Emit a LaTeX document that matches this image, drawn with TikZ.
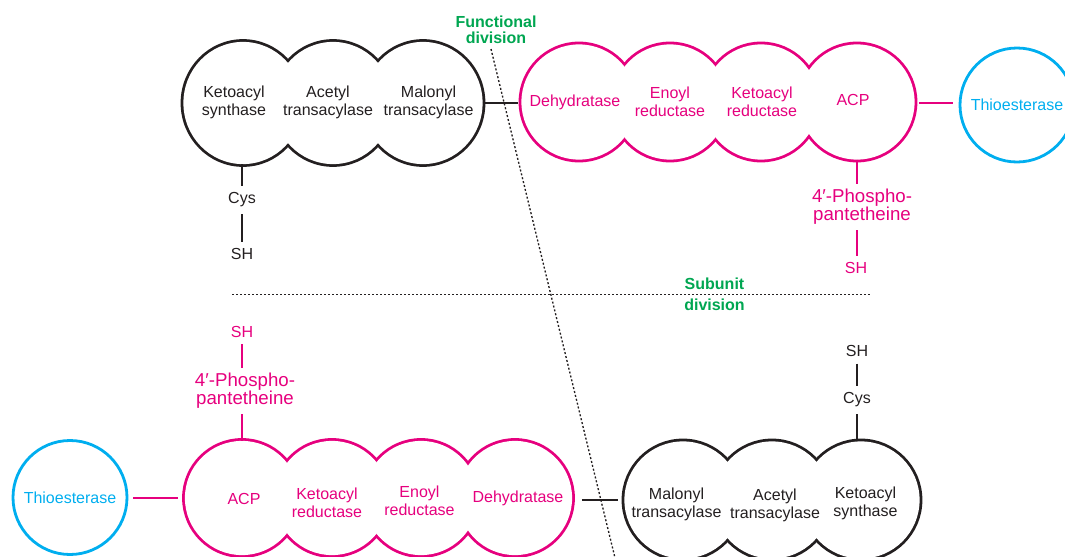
\documentclass[tikz,border=0pt]{standalone}
\usepackage{fontspec}
\setmainfont{Liberation Sans}
\usetikzlibrary{backgrounds,shapes.geometric}
\definecolor{pk}{HTML}{E6007E}
\definecolor{cy}{HTML}{00AEEF}
\definecolor{gr}{HTML}{00A651}
\definecolor{dk}{HTML}{231F20}
\begin{document}
\begin{tikzpicture}[x=0.75pt,y=-0.75pt,
  lb/.style={font=\fontsize{12}{13.7}\selectfont,align=center,inner sep=0pt,text=dk},
  lbp/.style={lb,text=pk},
  chain/.style={font=\fontsize{12}{13.7}\selectfont,inner xsep=0pt,inner ysep=5pt,text=dk},
  chainp/.style={chain,text=pk},
  phos/.style={font=\fontsize{14}{13.5}\selectfont,align=center,inner xsep=0pt,inner ysep=4pt,text=pk},
  divlbl/.style={font=\bfseries\fontsize{12}{#1}\selectfont,align=center,inner sep=0pt,text=gr},
  blklobe/.style={ellipse,fill=white,inner sep=0pt,outer sep=0pt,minimum width=89.4pt,minimum height=91.65pt},
  pklobe/.style={circle,fill=white,inner sep=0pt,outer sep=0pt,minimum size=86.4pt},
  pklobeb/.style={circle,fill=white,inner sep=0pt,outer sep=0pt,minimum size=85.65pt},
  bklobeb/.style={circle,fill=white,inner sep=0pt,outer sep=0pt,minimum size=87.9pt},
  thio/.style={circle,draw=cy,line width=2.1pt,inner sep=0pt,outer sep=0pt,minimum size=85.5pt,
    text=cy,font=\fontsize{12}{13.7}\selectfont},
  dcon/.style={draw=dk,line width=1pt},
  pcon/.style={draw=pk,line width=1.2pt},
  dotline/.style={draw=dk,line width=1pt,dash pattern=on 1.5pt off 1.5pt}
]
\useasboundingbox (0,0) rectangle (1065,557);

% dotted division lines
\coordinate (fd1) at (491,49);
\coordinate (fd2) at (616,562);
\coordinate (sd1) at (232,294.3);
\coordinate (sd2) at (870,294.3);
\draw[dotline] (fd1) -- (fd2);
\draw[dotline] (sd1) -- (sd2);

% lobes
\node[blklobe] (tb1) at (243,103) {};
\node[blklobe] (tb2) at (333,103) {};
\node[blklobe] (tb3) at (423,103) {};
\node[pklobe] (tp1) at (579,102) {};
\node[pklobe] (tp2) at (670,102) {};
\node[pklobe] (tp3) at (761,102) {};
\node[pklobe] (tp4) at (857,102) {};
\node[pklobeb] (bp1) at (242,498) {};
\node[pklobeb] (bp2) at (332,498) {};
\node[pklobeb] (bp3) at (421,498) {};
\node[pklobeb] (bp4) at (515,498) {};
\node[bklobeb] (bb1) at (683,500) {};
\node[bklobeb] (bb2) at (772,500) {};
\node[bklobeb] (bb3) at (861,500) {};

\begin{scope}[on background layer]
  \foreach \n in {tb1,tb2,tb3}
    \draw[dk,line width=4.2pt] (\n.center) ellipse [x radius=44.7pt,y radius=45.8pt];
  \foreach \n in {tp1,tp2,tp3,tp4}
    \draw[pk,line width=4.2pt] (\n.center) circle [radius=43.2pt];
  \foreach \n in {bp1,bp2,bp3,bp4}
    \draw[pk,line width=4.2pt] (\n.center) circle [radius=42.83pt];
  \foreach \n in {bb1,bb2,bb3}
    \draw[dk,line width=4.2pt] (\n.center) circle [radius=43.95pt];
\end{scope}

% thioesterases
\node[thio] (thioR) at (1017,105) {Thioesterase};
\node[thio] (thioL) at (70,497.5) {Thioesterase};

% lobe texts
\node[lb] (tKS) at (234,102.5) {Ketoacyl\\synthase};
\node[lb] (tAT) at (328,102.5) {Acetyl\\transacylase};
\node[lb] (tMT) at (428.5,102.5) {Malonyl\\transacylase};
\node[lbp] (tDH) at (575,102) {Dehydratase};
\node[lbp] (tER) at (670,102) {Enoyl\\reductase};
\node[lbp] (tKR) at (762,101.5) {Ketoacyl\\reductase};
\node[lbp] (tACP) at (853,100) {ACP};

\node[lbp] (bACP) at (244,499) {ACP};
\node[lbp] (bKR) at (327,503) {Ketoacyl\\reductase};
\node[lbp] (bER) at (419.5,501) {Enoyl\\reductase};
\node[lbp] (bDH) at (518,498) {Dehydratase};
\node[lb] (bMT) at (676.5,504.5) {Malonyl\\transacylase};
\node[lb] (bAT) at (775,505) {Acetyl\\transacylase};
\node[lb] (bKS) at (865.5,503) {Ketoacyl\\synthase};

% chain labels
\node[chain] (cys1) at (242,200) {Cys};
\node[chain] (sh1) at (242,254.3) {SH};
\node[phos] (ph1) at (862,207) {4′-Phospho-\\pantetheine};
\node[chainp] (shp1) at (856,268.3) {SH};
\node[chainp] (sh2) at (242,331.7) {SH};
\node[phos] (ph2) at (245,391) {4′-Phospho-\\pantetheine};
\node[chain] (sh3) at (857,351) {SH};
\node[chain] (cys3) at (857,400) {Cys};

% division labels
\node[divlbl=11.7] (fdl) at (496,29.5) {Functional\\division};
\node[divlbl=15.75] (sdl) at (714.5,293.8) {Subunit\\division};

% connectors
\draw[dcon,shorten >=2.4pt] (tb3.east) -- (tp1.west |- tb3.east);
\draw[pcon,shorten <=3.6pt,shorten >=5.2pt] (tp4.east |- 0,103) -- (thioR.west |- 0,103);
\draw[pcon,shorten <=4.5pt,shorten >=5pt] (thioL.east |- 0,498) -- (bp1.west |- 0,498);
\draw[dcon,shorten <=7.3pt,shorten >=4.7pt] (bp4.east |- bb1.west) -- (bb1.west);

\draw[dcon] (cys1.north) -- (cys1.north |- tb1.south);
\draw[dcon] (cys1.south) -- (cys1.south |- sh1.north);
\draw[pcon] (tp4.south) -- (tp4.south |- ph1.north);
\draw[pcon] (ph1.south -| tp4.south) -- (tp4.south |- shp1.north);
\draw[pcon] (sh2.south) -- (sh2.south |- ph2.north);
\draw[pcon] (ph2.south -| sh2.south) -- (sh2.south |- bp1.north);
\draw[dcon] (sh3.south) -- (sh3.south |- cys3.north);
\draw[dcon] (cys3.south) -- (cys3.south |- bb3.north);
\end{tikzpicture}
\end{document}
